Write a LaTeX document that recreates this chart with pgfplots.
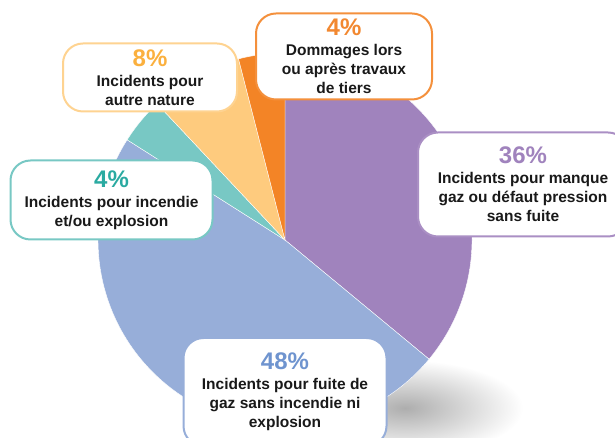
\documentclass[border=0pt]{standalone}
\usepackage{pgfplots}
\usepackage{pgfplotstable}
\pgfplotsset{compat=1.18}
\usepackage{fontspec}
\setmainfont{Liberation Sans}

\definecolor{cpurple}{HTML}{A083BD}
\definecolor{cblue}{HTML}{97AED9}
\definecolor{cteal}{HTML}{78C8C4}
\definecolor{clorange}{HTML}{FECB7E}
\definecolor{corange}{HTML}{F38426}
\definecolor{tpurple}{HTML}{A083BD}
\definecolor{tblue}{HTML}{6F94CF}
\definecolor{tteal}{HTML}{2AAAA1}
\definecolor{tlorange}{HTML}{FBB03E}
\definecolor{torange}{HTML}{F28830}

% share of each kind of incident, clockwise from 12 o'clock
\pgfplotstableread{
pct col
36 cpurple
48 cblue
4  cteal
8  clorange
4  corange
}\piedata

\tikzset{lbl/.style={draw=#1, line width=2pt, rounded corners=20pt, fill=white,
  align=center, inner sep=0pt, text=black!90,
  font=\bfseries\fontsize{15.5}{19}\selectfont}}
\newcommand{\pc}[2]{{\color{#1}\fontsize{24}{24}\selectfont #2}\\[1pt]}

\begin{document}
\begin{tikzpicture}
\begin{axis}[
  scale only axis, width=615pt, height=438pt,
  xmin=0, xmax=615, ymin=0, ymax=438,
  hide axis, clip=false,
]
  \coordinate (ll) at (axis cs:0,0);
  \coordinate (ur) at (axis cs:615,438);
  % soft shadow under the pie
  \shade[inner color=black!32, outer color=white]
    (axis cs:405,30) ellipse [x radius=118, y radius=48];

  \def\cum{90}
  \pgfplotstablegetrowsof{\piedata}
  \pgfmathtruncatemacro\nrows{\pgfplotsretval-1}
  \pgfplotsforeachungrouped \i in {0,...,\nrows}{%
    \pgfplotstablegetelem{\i}{pct}\of\piedata \let\slicepct\pgfplotsretval
    \pgfplotstablegetelem{\i}{col}\of\piedata \let\slicecol\pgfplotsretval
    \pgfmathsetmacro\endang{\cum-3.6*\slicepct}
    \edef\temp{\noexpand\filldraw[fill=\slicecol, draw=white, line width=0.4pt]
      (axis cs:285,198) -- ++(\cum:187) arc[start angle=\cum, end angle=\endang, radius=187] -- cycle;}
    \temp
    \let\cum\endang
  }

  \node[lbl=corange!90, minimum width=176pt, minimum height=86pt] at (axis cs:344,381.5)
    {\pc{torange}{4\%}Dommages lors\\ ou après travaux\\ de tiers};
  \node[lbl=clorange!85, minimum width=174pt, minimum height=68pt] at (axis cs:150,360.5)
    {\pc{tlorange}{8\%}Incidents pour\\ autre nature};
  \node[lbl=cpurple!90, minimum width=210pt, minimum height=104pt] at (axis cs:523,253.5)
    {\pc{tpurple}{36\%}Incidents pour manque\\ gaz ou défaut pression\\ sans fuite};
  \node[lbl=cteal, minimum width=202pt, minimum height=79pt] at (axis cs:111.5,238)
    {\pc{tteal}{4\%}Incidents pour incendie\\ et/ou explosion};
  \node[lbl=cblue, minimum width=203pt, minimum height=108pt] at (axis cs:285,46)
    {\pc{tblue}{48\%}Incidents pour fuite de\\ gaz sans incendie ni\\ explosion};
\end{axis}
\pgfresetboundingbox
\useasboundingbox (ll) rectangle (ur);
\end{tikzpicture}
\end{document}
